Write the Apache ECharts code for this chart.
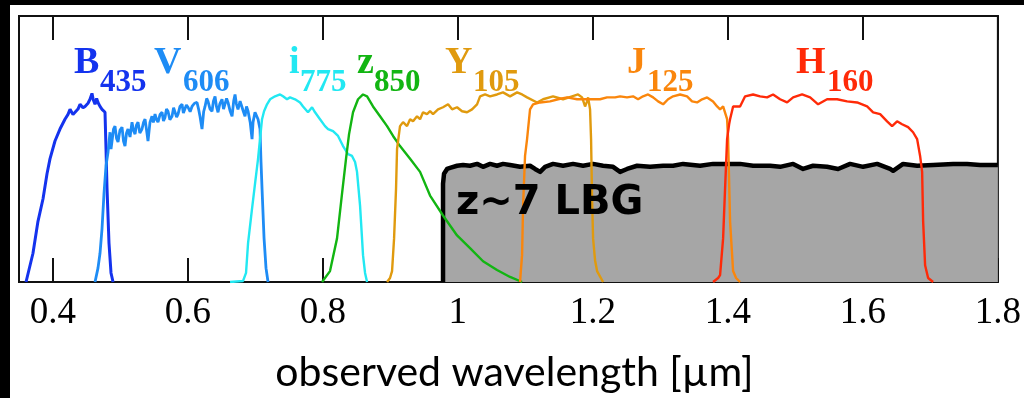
<!DOCTYPE html>
<html>
<head>
<meta charset="utf-8">
<script src="https://cdn.jsdelivr.net/npm/echarts@6/dist/echarts.min.js"></script>
<style>
html,body{margin:0;padding:0;background:#fff;}
#chart{width:1024px;height:398px;}
</style>
</head>
<body>
<div id="chart"></div>
<script>
// ---- data (wavelength in µm, relative throughput) ----
const xTicks = [0.4, 0.6, 0.8, 1.0, 1.2, 1.4, 1.6, 1.8];
const xName = 'observed wavelength [µm]';

const filterNames = ['B', 'V', 'i', 'z', 'Y', 'J', 'H'];
const filterSubs = ['435', '606', '775', '850', '105', '125', '160'];

const B435 = [[0.3604,0],[0.3707,0.108],[0.3781,0.228],[0.3856,0.313],[0.3915,0.407],[0.3959,0.463],[0.4033,0.530],[0.4107,0.575],[0.4181,0.612],[0.4226,0.630],[0.4256,0.649],[0.4300,0.630],[0.4330,0.638],[0.4374,0.650],[0.4404,0.668],[0.4448,0.655],[0.4478,0.660],[0.4522,0.672],[0.4552,0.687],[0.4581,0.709],[0.4600,0.685],[0.4626,0.668],[0.4650,0.690],[0.4670,0.675],[0.4700,0.660],[0.4730,0.649],[0.4774,0.638],[0.4789,0.500],[0.4804,0.351],[0.4833,0.146],[0.4863,0.034],[0.4893,0]];

const V606 = [[0.4626,0],[0.4670,0.052],[0.4700,0.108],[0.4730,0.201],[0.4759,0.332],[0.4789,0.437],[0.4819,0.489],[0.4848,0.563],[0.4863,0.500],[0.4878,0.530],[0.4900,0.575],[0.4922,0.586],[0.4945,0.540],[0.4967,0.526],[0.4995,0.570],[0.5026,0.582],[0.5048,0.530],[0.5070,0.511],[0.5093,0.560],[0.5115,0.575],[0.5145,0.545],[0.5174,0.601],[0.5196,0.570],[0.5219,0.556],[0.5240,0.590],[0.5263,0.601],[0.5290,0.560],[0.5322,0.575],[0.5345,0.600],[0.5367,0.612],[0.5390,0.570],[0.5411,0.530],[0.5440,0.600],[0.5470,0.623],[0.5490,0.600],[0.5515,0.631],[0.5535,0.612],[0.5559,0.601],[0.5590,0.630],[0.5619,0.638],[0.5640,0.605],[0.5663,0.619],[0.5685,0.650],[0.5707,0.642],[0.5735,0.610],[0.5767,0.623],[0.5790,0.655],[0.5811,0.649],[0.5835,0.620],[0.5856,0.631],[0.5885,0.660],[0.5915,0.668],[0.5935,0.635],[0.5959,0.642],[0.5980,0.665],[0.6004,0.657],[0.6035,0.640],[0.6063,0.660],[0.6100,0.672],[0.6137,0.675],[0.6160,0.650],[0.6181,0.623],[0.6211,0.575],[0.6235,0.640],[0.6256,0.660],[0.6280,0.690],[0.6300,0.679],[0.6330,0.650],[0.6359,0.642],[0.6380,0.680],[0.6404,0.698],[0.6425,0.660],[0.6448,0.638],[0.6475,0.670],[0.6507,0.687],[0.6530,0.650],[0.6552,0.657],[0.6575,0.690],[0.6596,0.675],[0.6625,0.645],[0.6656,0.623],[0.6680,0.680],[0.6700,0.705],[0.6720,0.670],[0.6744,0.649],[0.6775,0.680],[0.6804,0.687],[0.6825,0.640],[0.6848,0.623],[0.6870,0.660],[0.6893,0.642],[0.6925,0.600],[0.6952,0.537],[0.6967,0.601],[0.6996,0.638],[0.7041,0.612],[0.7070,0.575],[0.7085,0.451],[0.7100,0.351],[0.7130,0.164],[0.7159,0.052],[0.7189,0]];

const I775 = [[0.6626,0],[0.6819,0.004],[0.6863,0.034],[0.6893,0.146],[0.6952,0.276],[0.6996,0.369],[0.7041,0.463],[0.7070,0.537],[0.7100,0.612],[0.7130,0.642],[0.7174,0.668],[0.7219,0.687],[0.7293,0.698],[0.7367,0.705],[0.7411,0.698],[0.7470,0.687],[0.7515,0.694],[0.7589,0.687],[0.7663,0.675],[0.7707,0.660],[0.7781,0.638],[0.7841,0.657],[0.7885,0.638],[0.7959,0.612],[0.8033,0.586],[0.8078,0.575],[0.8152,0.567],[0.8226,0.549],[0.8300,0.511],[0.8374,0.481],[0.8433,0.474],[0.8478,0.451],[0.8507,0.414],[0.8552,0.287],[0.8596,0.101],[0.8626,0.034],[0.8656,0]];

const Z850 = [[0.7989,0],[0.8107,0.041],[0.8211,0.164],[0.8285,0.332],[0.8344,0.463],[0.8389,0.556],[0.8448,0.638],[0.8522,0.687],[0.8596,0.705],[0.8656,0.698],[0.8744,0.660],[0.8848,0.623],[0.8952,0.586],[0.9041,0.549],[0.9144,0.511],[0.9293,0.463],[0.9441,0.414],[0.9589,0.325],[0.9781,0.250],[0.9989,0.175],[1.0181,0.127],[1.0374,0.078],[1.0581,0.045],[1.0774,0.019],[1.0952,0]];

const Y105 = [[0.8952,0],[0.8996,0.015],[0.9026,0.041],[0.9056,0.164],[0.9085,0.351],[0.9100,0.500],[0.9144,0.586],[0.9189,0.601],[0.9248,0.586],[0.9293,0.612],[0.9337,0.604],[0.9396,0.623],[0.9441,0.612],[0.9485,0.638],[0.9544,0.631],[0.9589,0.642],[0.9633,0.631],[0.9707,0.649],[0.9781,0.657],[0.9856,0.668],[0.9915,0.649],[0.9989,0.657],[1.0063,0.642],[1.0137,0.638],[1.0211,0.649],[1.0285,0.668],[1.0330,0.698],[1.0404,0.705],[1.0478,0.698],[1.0581,0.705],[1.0670,0.713],[1.0774,0.698],[1.0878,0.713],[1.0952,0.705],[1.1026,0.694],[1.1174,0.675],[1.1263,0.687],[1.1411,0.698],[1.1559,0.687],[1.1693,0.698],[1.1781,0.705],[1.1841,0.694],[1.1885,0.660],[1.1915,0.679],[1.1930,0.694],[1.1959,0.649],[1.1974,0.537],[1.1989,0.313],[1.2004,0.164],[1.2033,0.082],[1.2063,0.041],[1.2152,0]];

const J125 = [[1.0922,0],[1.0937,0.052],[1.0952,0.101],[1.0967,0.287],[1.0996,0.474],[1.1026,0.537],[1.1070,0.649],[1.1115,0.668],[1.1219,0.675],[1.1367,0.679],[1.1485,0.687],[1.1619,0.694],[1.1767,0.687],[1.1959,0.687],[1.2107,0.687],[1.2211,0.694],[1.2330,0.694],[1.2404,0.698],[1.2507,0.694],[1.2596,0.698],[1.2670,0.687],[1.2744,0.698],[1.2819,0.705],[1.2893,0.694],[1.2967,0.679],[1.3041,0.668],[1.3115,0.687],[1.3189,0.698],[1.3293,0.705],[1.3396,0.698],[1.3470,0.679],[1.3544,0.675],[1.3619,0.687],[1.3693,0.694],[1.3781,0.679],[1.3841,0.660],[1.3885,0.649],[1.3930,0.660],[1.3989,0.612],[1.4004,0.537],[1.4033,0.228],[1.4078,0.041],[1.4122,0.015],[1.4181,0]];

const H160 = [[1.3781,0],[1.3856,0.015],[1.3885,0.026],[1.3930,0.164],[1.3959,0.351],[1.3989,0.537],[1.4019,0.593],[1.4033,0.612],[1.4078,0.660],[1.4181,0.660],[1.4256,0.698],[1.4374,0.705],[1.4478,0.698],[1.4581,0.694],[1.4670,0.705],[1.4774,0.687],[1.4878,0.675],[1.4967,0.694],[1.5100,0.705],[1.5219,0.694],[1.5337,0.668],[1.5470,0.687],[1.5619,0.687],[1.5767,0.679],[1.5915,0.675],[1.6063,0.660],[1.6152,0.638],[1.6256,0.631],[1.6359,0.604],[1.6433,0.586],[1.6507,0.604],[1.6581,0.593],[1.6670,0.582],[1.6744,0.563],[1.6804,0.537],[1.6848,0.474],[1.6878,0.414],[1.6893,0.228],[1.6922,0.063],[1.6967,0.015],[1.7041,0]];

const LBG = [[0.9781,0],[0.9781,0.369],[0.9796,0.407],[0.9841,0.425],[0.9885,0.429],[0.9989,0.437],[1.0078,0.440],[1.0181,0.437],[1.0285,0.444],[1.0374,0.433],[1.0478,0.444],[1.0581,0.437],[1.0670,0.444],[1.0774,0.440],[1.0922,0.433],[1.1070,0.437],[1.1144,0.425],[1.1219,0.414],[1.1293,0.433],[1.1411,0.444],[1.1559,0.437],[1.1707,0.444],[1.1856,0.437],[1.2004,0.444],[1.2152,0.437],[1.2300,0.433],[1.2404,0.414],[1.2507,0.425],[1.2656,0.437],[1.2848,0.433],[1.3041,0.437],[1.3189,0.437],[1.3337,0.444],[1.3589,0.437],[1.3781,0.444],[1.3989,0.444],[1.4181,0.444],[1.4374,0.437],[1.4626,0.437],[1.4774,0.433],[1.4967,0.444],[1.5115,0.425],[1.5263,0.437],[1.5470,0.433],[1.5633,0.425],[1.5811,0.444],[1.6004,0.433],[1.6211,0.444],[1.6404,0.425],[1.6448,0.418],[1.6596,0.444],[1.6804,0.437],[1.7041,0.440],[1.7337,0.444],[1.7544,0.444],[1.7737,0.440],[1.8000,0.440]];
const lbgLabel = 'z~7 LBG';

// ---- chart ----
const curves = [B435, V606, I775, Z850, Y105, J125, H160];
const colors = ['#1433ee', '#1e8cf5', '#22e8f2', '#12b512', '#e09a0e', '#fa860c', '#ff2a08'];
const widths = [3, 2.8, 2.4, 2.4, 2.4, 2.4, 2.4];

const chart = echarts.init(document.getElementById('chart'), null, {renderer: 'canvas'});

const series = [{
  type: 'line', data: LBG, showSymbol: false, symbol: 'none', z: 1,
  lineStyle: {color: '#000', width: 4.5, join: 'round'},
  areaStyle: {color: '#a6a6a6', opacity: 1},
  silent: true
}];
curves.forEach((c, i) => {
  series.push({
    type: 'line', data: c, showSymbol: false, symbol: 'none', z: 3 + i,
    lineStyle: {color: colors[i], width: widths[i]}, smooth: false, silent: true
  });
});

const graphics = [
  {type: 'rect', shape: {x: 0, y: 0, width: 10, height: 398}, style: {fill: '#000'}, z: 100},
  {type: 'rect', shape: {x: 0, y: 0, width: 1024, height: 5}, style: {fill: '#000'}, z: 100}
];
const mainX = [74, 154, 289, 357, 445, 627, 796];
const subX = [100, 183, 300, 374, 473, 647, 827];
filterNames.forEach((n, i) => {
  graphics.push({type: 'text', z: 50, style: {text: n, x: mainX[i], y: 63, fill: colors[i],
    font: 'bold 38px "Liberation Serif"', align: 'left', verticalAlign: 'middle'}});
  graphics.push({type: 'text', z: 50, style: {text: filterSubs[i], x: subX[i], y: 83, fill: colors[i],
    font: 'bold 31px "Liberation Serif"', align: 'left', verticalAlign: 'middle'}});
});
graphics.push({type: 'text', z: 50, style: {text: lbgLabel, x: 456, y: 204, fill: '#000',
  font: 'bold 40px "DejaVu Sans"', align: 'left', verticalAlign: 'middle'}});

const tickFmt = v => (Math.round(v * 10) / 10).toString();

chart.setOption({
  animation: false,
  backgroundColor: '#fff',
  grid: {left: 19, top: 16, right: 26, bottom: 114, show: true, borderColor: '#111', borderWidth: 2, backgroundColor: 'transparent'},
  xAxis: [{
    type: 'value', min: 0.35, max: 1.8, position: 'bottom',
    axisLine: {show: true, onZero: false, lineStyle: {color: '#111', width: 2}},
    axisTick: {show: true, inside: true, length: 24, customValues: xTicks, lineStyle: {color: '#111', width: 2}},
    axisLabel: {show: true, customValues: xTicks, formatter: tickFmt, margin: 13,
      fontFamily: 'Liberation Serif', fontSize: 37, color: '#000'},
    splitLine: {show: false},
    name: xName, nameLocation: 'middle', nameGap: 70,
    nameTextStyle: {fontFamily: 'Lato', fontSize: 41, color: '#000', padding: [0, 0, 0, 12]}
  }, {
    type: 'value', min: 0.35, max: 1.8, position: 'top',
    axisLine: {show: true, onZero: false, lineStyle: {color: '#111', width: 2}},
    axisTick: {show: true, inside: true, length: 24, customValues: xTicks, lineStyle: {color: '#111', width: 2}},
    axisLabel: {show: false},
    splitLine: {show: false}
  }],
  yAxis: {type: 'value', min: 0, max: 1, show: false, splitLine: {show: false}},
  series: series,
  graphic: graphics
});
</script>
</body>
</html>
